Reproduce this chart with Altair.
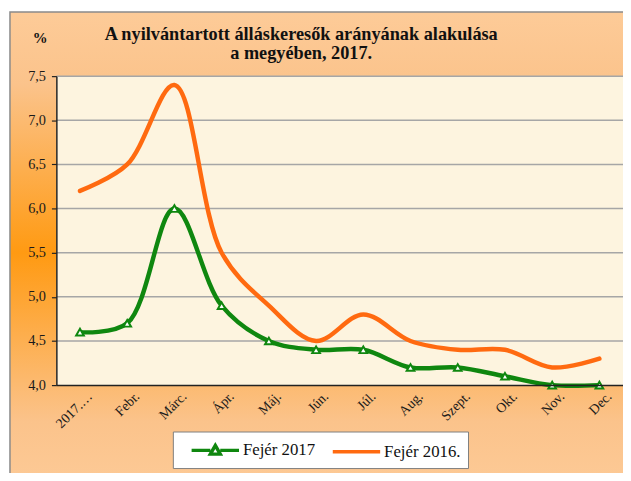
import altair as alt
import pandas as pd

# ---- data ----
months = ["2017.…", "Febr.", "Márc.", "Ápr.", "Máj.", "Jún.", "Júl.",
          "Aug.", "Szept.", "Okt.", "Nov.", "Dec."]
fejer_2017 = [4.6, 4.7, 6.0, 4.9, 4.5, 4.4, 4.4, 4.2, 4.2, 4.1, 4.0, 4.0]
fejer_2016 = [6.2, 6.5, 7.4, 5.5, 4.9, 4.5, 4.8, 4.5, 4.4, 4.4, 4.2, 4.3]
series_names = ["Fejér 2017", "Fejér 2016."]
y_ticks = [4.0, 4.5, 5.0, 5.5, 6.0, 6.5, 7.0, 7.5]
title_lines = ["A nyilvántartott álláskeresők arányának alakulása",
               "a megyében, 2017."]
y_unit = "%"

GREEN = "#0f870f"
ORANGE = "#ff6a10"
SERIF = "Liberation Serif"
W, H = 574, 313

rows = []
for m, a, b in zip(months, fejer_2017, fejer_2016):
    rows.append({"month": m, "series": series_names[0], "value": a})
    rows.append({"month": m, "series": series_names[1], "value": b})
df = pd.DataFrame(rows)
df17 = df[df["series"] == series_names[0]]
grid_df = pd.DataFrame({"v": y_ticks[1:]})
one = pd.DataFrame({"k": [0]})

x_enc = alt.X(
    "month:N", sort=months,
    scale=alt.Scale(domain=months, padding=0.5),
    axis=alt.Axis(
        title=None, labelAngle=-45, labelAlign="right", labelBaseline="top",
        labelFont=SERIF, labelFontSize=14, labelColor="#1a1a1a",
        ticks=False, domainColor="#222222", domainWidth=1.5,
        labelPadding=4, labelOffset=5, zindex=1,
    ),
)
y_scale = alt.Scale(domain=[4.0, 7.5], nice=False, zero=False)
y_enc = alt.Y(
    "value:Q", scale=y_scale,
    axis=alt.Axis(
        values=y_ticks, grid=False,
        labelExpr="replace(format(datum.value, '.1f'), '.', ',')",
        labelFont=SERIF, labelFontSize=14.5, labelColor="#1a1a1a",
        tickColor="#222222", tickSize=5, tickWidth=1.2,
        domainColor="#222222", domainWidth=1.5, labelPadding=6,
        title=y_unit, titleAngle=0, titleX=-17, titleY=-39,
        titleFont=SERIF, titleFontSize=15, titleFontWeight="bold",
        titleAlign="center", titleBaseline="middle", titleColor="#111111",
        zindex=1,
    ),
)

stroke_scale = alt.Scale(domain=series_names, range=[GREEN, ORANGE])
shape_scale = alt.Scale(
    domain=series_names,
    range=["M-2.4,0H-0.5M0.5,0H2.4M0,-0.5L0.5,0.38L-0.5,0.38Z",
           "M-2.4,0H2.4"],
)

bg = alt.Chart(one).mark_rect(
    fill=alt.LinearGradient(
        gradient="linear", x1=0, y1=0, x2=0, y2=1,
        stops=[
            alt.GradientStop(color="#fdcb98", offset=0.0),
            alt.GradientStop(color="#fbc38b", offset=0.15),
            alt.GradientStop(color="#ff9a12", offset=0.5),
            alt.GradientStop(color="#fbc38b", offset=0.85),
            alt.GradientStop(color="#fdcb98", offset=1.0),
        ],
    ),
    stroke="#8a8a8a", strokeWidth=1.5,
).encode(x=alt.value(-47), x2=alt.value(W + 30),
         y=alt.value(-65), y2=alt.value(H + 110))

plot_bg = alt.Chart(one).mark_rect(fill="#fdf4df").encode(
    x=alt.value(0), x2=alt.value(W), y=alt.value(0), y2=alt.value(H))

grid = alt.Chart(grid_df).mark_rule(color="#a6a6a6", strokeWidth=1.5).encode(
    y=alt.Y("v:Q", scale=y_scale),
    x=alt.value(0), x2=alt.value(W))

title1 = alt.Chart(one).mark_text(
    font=SERIF, fontSize=18.5, fontWeight="bold", color="#111111",
    align="center", baseline="middle",
).encode(x=alt.value(248), y=alt.value(-43), text=alt.value(title_lines[0]))
title2 = alt.Chart(one).mark_text(
    font=SERIF, fontSize=18.5, fontWeight="bold", color="#111111",
    align="center", baseline="middle",
).encode(x=alt.value(248), y=alt.value(-23), text=alt.value(title_lines[1]))

lines = alt.Chart(df).mark_line(
    interpolate="catmull-rom", strokeWidth=4.5, strokeCap="round"
).encode(
    x=x_enc, y=y_enc,
    stroke=alt.Stroke("series:N", scale=stroke_scale, legend=None),
)

markers = alt.Chart(df17).mark_point(
    shape="triangle-up", filled=True, fill="white", stroke=GREEN,
    strokeWidth=2, size=60, opacity=1,
).encode(x=x_enc, y=y_enc)

leg = alt.Legend(
    title=None, orient="none", legendX=118, legendY=360,
    direction="horizontal", fillColor="white", strokeColor="#7f7f7f",
    padding=7, symbolSize=400, symbolStrokeWidth=3.5,
    symbolFillColor="white", symbolOffset=24,
    labelFont=SERIF, labelFontSize=17, labelColor="#111111",
    labelOffset=16, columnPadding=5,
)
legend_layer = alt.Chart(df).mark_point(filled=True, fill="white", size=1).encode(
    x=x_enc, y=y_enc,
    stroke=alt.Stroke("series:N", scale=stroke_scale, legend=leg),
    shape=alt.Shape("series:N", scale=shape_scale, legend=leg),
    opacity=alt.condition("false", alt.value(1), alt.value(0)),
)

chart = alt.layer(
    bg, plot_bg, grid, title1, title2, lines, markers, legend_layer
).resolve_legend(stroke="independent", shape="independent").properties(
    width=W, height=H,
    padding={"left": 49, "top": 66, "right": 0, "bottom": 86},
    autosize=alt.AutoSizeParams(type="none"),
    background="white",
).configure_view(stroke=None)

chart.save("out.html", embed_options={"renderer": "svg", "actions": False})
